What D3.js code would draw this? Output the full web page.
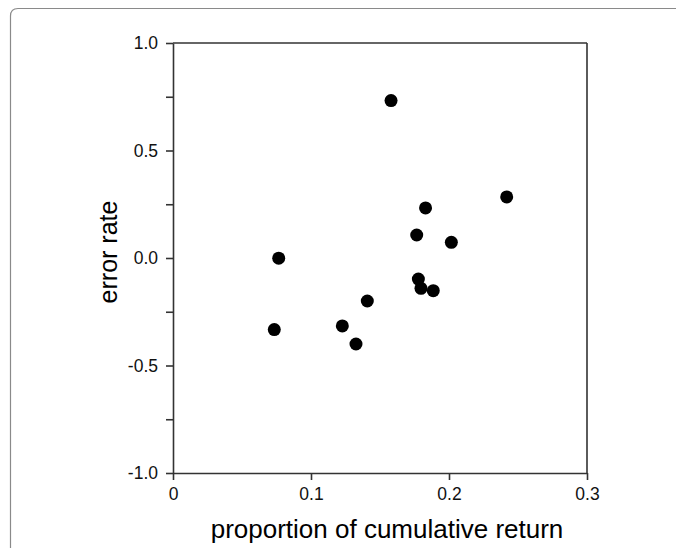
<!DOCTYPE html>
<html><head><meta charset="utf-8">
<script src="https://cdn.jsdelivr.net/npm/d3@7"></script>
<style>body{margin:0;background:#fff}svg{display:block}</style>
</head><body>
<script>
const xValues = [0.158, 0.183, 0.1766, 0.2017, 0.0766, 0.1778, 0.1797, 0.1886, 0.1408, 0.0734, 0.1227, 0.1326, 0.2418];
const yValues = [0.732, 0.233, 0.107, 0.073, -0.001, -0.098, -0.141, -0.152, -0.2, -0.333, -0.316, -0.4, 0.284];
const xTicks = [0, 0.1, 0.2, 0.3];
const xTickLabels = ["0", "0.1", "0.2", "0.3"];
const yTicks = [-1, -0.75, -0.5, -0.25, 0, 0.25, 0.5, 0.75, 1];
const yTickLabels = ["-1.0", "", "-0.5", "", "0.0", "", "0.5", "", "1.0"];
const xTitle = "proportion of cumulative return";
const yTitle = "error rate";

const W = 676, H = 548;
const svg = d3.select("body").append("svg").attr("width", W).attr("height", H);
// frame
svg.append("path")
  .attr("d", "M10.5,548 L10.5,16 Q10.5,8.5 18,8.5 L676,8.5")
  .attr("fill", "none").attr("stroke", "#8a8a8a").attr("stroke-width", 1.2);

const mLeft = 173, mRight = 587, mTop = 43, mBottom = 473;
const x = d3.scaleLinear().domain([0, 0.3]).range([mLeft, mRight]);
const y = d3.scaleLinear().domain([-1, 1]).range([mBottom, mTop]);
const font = "Liberation Sans, Arial, sans-serif";

const xAxis = svg.append("g").attr("transform", `translate(0,${mBottom})`)
  .call(d3.axisBottom(x).tickValues(xTicks).tickFormat((d, i) => xTickLabels[i]).tickSize(7).tickSizeOuter(0).tickPadding(8));
const yAxis = svg.append("g").attr("transform", `translate(${mLeft},0)`)
  .call(d3.axisLeft(y).tickValues(yTicks).tickFormat((d, i) => yTickLabels[i]).tickSize(7).tickSizeOuter(0).tickPadding(8));
[xAxis, yAxis].forEach(g => {
  g.select(".domain").attr("stroke", "#333").attr("stroke-width", 1.6);
  g.selectAll(".tick line").attr("stroke", "#333").attr("stroke-width", 1.6);
  g.selectAll(".tick text").attr("fill", "#111").style("font-family", font).style("font-size", "17.5px");
});
// top and right box lines
svg.append("line").attr("x1", x(0)).attr("x2", x(0.3)).attr("y1", y(1)).attr("y2", y(1)).attr("stroke", "#333").attr("stroke-width", 1.6);
svg.append("line").attr("x1", x(0.3)).attr("x2", x(0.3)).attr("y1", y(1)).attr("y2", y(-1)).attr("stroke", "#333").attr("stroke-width", 1.6);

svg.append("g").selectAll("circle").data(xValues.map((v, i) => [v, yValues[i]])).join("circle")
  .attr("cx", d => x(d[0])).attr("cy", d => y(d[1])).attr("r", 6.5).attr("fill", "#000");

svg.append("text").attr("x", 387).attr("y", 538).attr("text-anchor", "middle")
  .style("font-family", font).style("font-size", "26px").attr("fill", "#000").text(xTitle);
svg.append("text").attr("transform", `translate(117,252) rotate(-90)`).attr("text-anchor", "middle")
  .style("font-family", font).style("font-size", "25px").attr("fill", "#000").text(yTitle);
</script>
</body></html>
